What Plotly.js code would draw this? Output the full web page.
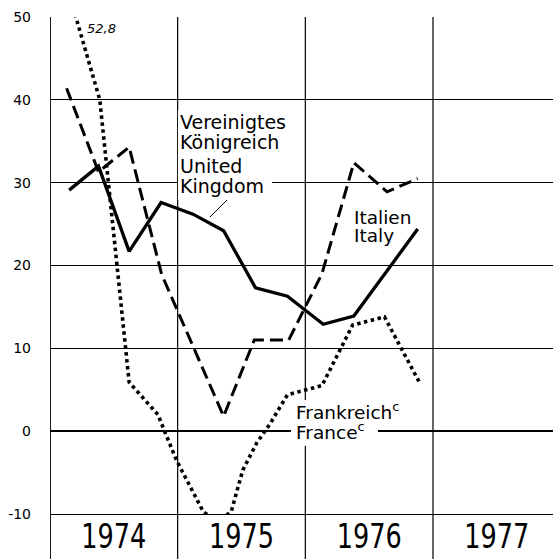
<!DOCTYPE html>
<html>
<head>
<meta charset="utf-8">
<script src="https://cdn.plot.ly/plotly-3.0.1.min.js"></script>
<style>html,body{margin:0;padding:0;background:#fff;}</style>
</head>
<body>
<div id="chart" style="width:553px;height:559px;"></div>
<script>
// Years shown on the x axis (labels centred in each year band)
const years = ['1974', '1975', '1976', '1977'];
const yearCenters = [1974.5, 1975.5, 1976.5, 1977.5];
const yearBounds = [1974, 1975, 1976, 1977];

// y-axis ticks and their printed labels
const yTicks = [-10, 0, 10, 20, 30, 40, 50];
const yTickText = ['-10', '0', '10', '20', '30', '40', '50'];

// Vereinigtes Königreich / United Kingdom (solid)
const ukX = [1974.15, 1974.38, 1974.62, 1974.87, 1975.12, 1975.36, 1975.61, 1975.86, 1976.14, 1976.38, 1976.88];
const ukY = [29.1, 32.0, 21.7, 27.6, 26.2, 24.2, 17.3, 16.3, 12.9, 13.9, 24.4];

// Italien / Italy (dashed)
const itX = [1974.13, 1974.38, 1974.62, 1974.875, 1975.36, 1975.60, 1975.87, 1976.13, 1976.38, 1976.64, 1976.88];
const itY = [41.4, 31.3, 34.3, 18.9, 1.8, 11.0, 11.0, 19.0, 32.4, 28.9, 30.5];

// Frankreich / France (dotted) – first value 52.8 lies above the frame
const frX = [1974.15, 1974.39, 1974.62, 1974.78, 1974.845, 1974.99, 1975.10, 1975.20, 1975.31, 1975.42, 1975.51, 1975.62, 1975.72, 1975.86, 1976.13, 1976.37, 1976.62, 1976.89];
const frY = [52.8, 40.0, 5.9, 3.2, 2.0, -3.5, -6.8, -9.7, -11.0, -9.7, -4.7, -1.4, 0.8, 4.4, 5.5, 12.8, 13.8, 6.0];

// pixel helpers for label placement (layout only)
const PX0 = 50, PXY = 127.7, PY0 = 431.3, PYU = 8.29;
const X = px => 1974 + (px - PX0) / PXY;
const Y = py => (PY0 - py) / PYU;

const font = 'DejaVu Sans, sans-serif';

const traces = [
  {x: ukX, y: ukY, mode: 'lines', line: {color: '#000', width: 3.3}, name: 'UK'},
  {x: itX, y: itY, mode: 'lines', line: {color: '#000', width: 3, dash: '13px,6px'}, name: 'Italy'},
  {x: frX, y: frY, mode: 'lines', line: {color: '#000', width: 3.6, dash: '3.5px,3.5px'}, name: 'France'}
];

const shapes = [];
yearBounds.forEach(b => shapes.push({
  type: 'line', xref: 'x', yref: 'paper', x0: b, x1: b, y0: -0.12, y1: 1.0,
  line: {color: '#000', width: b === 1974 ? 1.8 : 1.2}, layer: 'below'
}));
// white boxes behind labels that interrupt the grid
function whiteRect(x0, x1, y0, y1) {
  shapes.push({type: 'rect', xref: 'x', yref: 'y', x0: X(x0), x1: X(x1), y0: Y(y1), y1: Y(y0),
    fillcolor: '#fff', line: {width: 0}, layer: 'between'});
}
whiteRect(178, 272, 110, 200);
whiteRect(291, 378, 421, 446);
whiteRect(294, 414, 400, 421);
// leader line United Kingdom
shapes.push({type: 'line', xref: 'x', yref: 'y', x0: X(210), y0: Y(217), x1: X(227), y1: Y(200),
  line: {color: '#000', width: 1}});

function lab(text, px, py, size, extra) {
  return Object.assign({
    text: text, xref: 'x', yref: 'y', x: X(px), y: Y(py), xanchor: 'left', yanchor: 'middle',
    showarrow: false, font: {family: font, size: size, color: '#000'}, borderpad: 0
  }, extra || {});
}

const annotations = [
  lab('Vereinigtes', 179, 122, 19),
  lab('Königreich', 179, 142, 19),
  lab('United', 179, 166, 19),
  lab('Kingdom', 179, 186, 19),
  lab('Italien', 353, 217, 18.5),
  lab('Italy', 353, 235, 18.5),
  lab('Frankreich<sup>c</sup>', 295, 411, 18.5),
  lab('France<sup>c</sup>', 295, 431, 18.5),
  lab('<i>52,8</i>', 86, 28, 13)
];

const layout = {
  width: 553, height: 559,
  margin: {l: 50, r: 0, t: 17, b: 45, pad: 0},
  paper_bgcolor: '#fff', plot_bgcolor: '#fff',
  showlegend: false,
  font: {family: font, color: '#000'},
  xaxis: {
    range: [1974, 1977.94], type: 'linear',
    tickvals: yearCenters, ticktext: years,
    showgrid: false, zeroline: false, showline: true, linecolor: '#000', linewidth: 1.2, ticks: '',
    tickfont: {family: font, size: 33, color: '#000'},
    ticklabelstandoff: -7, fixedrange: true
  },
  yaxis: {
    range: [-10, 50], tickvals: yTicks, ticktext: yTickText,
    showgrid: true, gridcolor: '#000', gridwidth: 1,
    zeroline: true, zerolinecolor: '#000', zerolinewidth: 1.6,
    showline: false, ticks: '', ticklabelstandoff: 18,
    tickfont: {family: font, size: 14, color: '#000'}, fixedrange: true
  },
  shapes: shapes,
  annotations: annotations
};

Plotly.newPlot('chart', traces, layout, {staticPlot: true, displayModeBar: false}).then(() => {
  // condense the year labels like the printed original
  document.querySelectorAll('#chart .xtick text').forEach(t => {
    t.setAttribute('textLength', '65');
    t.setAttribute('lengthAdjust', 'spacingAndGlyphs');
  });
});
</script>
</body>
</html>
